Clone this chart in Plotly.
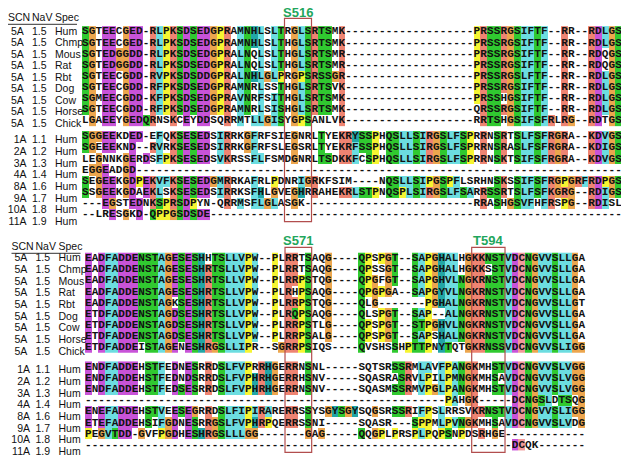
import plotly.graph_objects as go
from collections import Counter

# ---------------- data ----------------
ROW_SCN = ["5A"] * 9 + ["1A", "2A", "3A", "4A", "8A", "9A", "10A", "11A"]
ROW_NAV = ["1.5"] * 9 + ["1.1", "1.2", "1.3", "1.4", "1.6", "1.7", "1.8", "1.9"]
ROW_SPEC = ["Hum", "Chmp", "Mous", "Rat", "Rbt", "Dog", "Cow", "Horse", "Chick"] + ["Hum"] * 8
HEADER = ["SCN", "NaV", "Spec"]

TOP_SEQS = [
    "SGTEECGED-RLPKSDSEDGPRAMNHLSLTRGLSRTSMK" + "-" * 19 + "PRSSRGSIFTF--RR--RDLGS",
    "SGTEECGED-RLPKSDSEDGPRAMNHLSLTHGLSRTSMK" + "-" * 19 + "PRSSRGSIFTF--RR--RDLGS",
    "SGTEDGGDD-RLPKSDSEDGPRALNQLSLTHGLSRTSMR" + "-" * 19 + "PRSSRGSIFTF--RR--RDQGS",
    "SGTEDGGDD-RLPKSDSEDGPRALNQLSLTHGLSRTSMR" + "-" * 19 + "PRSSRGSIFTF--RR--RDQGS",
    "SGTEECGDD-RVPKSDSDDGPRALNHLGLPRGPSRSSGR" + "-" * 19 + "PRSSRGSLFTF--RR--RDLGS",
    "SGTEECGDD-RFPKSDSEDGPRAMNRLSSTHGLSRTSVK" + "-" * 19 + "PRSSRGSIFTF--RR--RDLGS",
    "SGMEECGDD-KFPKSDSEDGPRAVNRFSITHGLSRTSMK" + "-" * 19 + "PRSSHGSIFTF--RR--RDLGS",
    "SGTEECGDD-RFPKSDSEDGPRAMNRLSISHGLSRTSMK" + "-" * 19 + "QRSSRGSIFTF--RR--RDLGS",
    "LGAEEYGEDQRNSKCEYDDSQRRMTLLGISYGPSANLVK" + "-" * 19 + "RRTSHGSIFSFRLRG--RDTGS",
    "SGGEEKDED-EFQKSESED" + "SIRRKGFRFSIEGNRLTYEKRYSSPHQSLLSI" + "RGSLFSPRRNSRTSLFSFRGRA--KDVGS",
    "SGEEEKND--RVRKSESED" + "SIRRKGFRFSLEGSRLTYEKRFSSPHQSLLSI" + "RGSLFSPRRNSRASLFSFRGRA--KDIGS",
    "LEGNNKGERDSFPKSESED" + "SVKRSSFLFSMDGNRLTSDKKFCSPHQSLLSI" + "RGSLFSPRRNSKTSIFSFRGRA--KDVGS",
    "EGGEADGD" + "-" * 72,
    "SEGEEKGDPEKVFKSESED" + "GMRRKAFRLPDNRIGRKFSIM----NQSLLSI" + "PGSPFLSRHNSKSSIFSFRGPGRFRDPGS",
    "SSGEEKGDAEKLSKSESED" + "SIRRKSFHLGVEGHRRAHEKRLSTPNQSPLSI" + "RGSLFSARRSSRTSLFSFKGRG--RDIGS",
    "---EGSTEDNKSPRSDPYN" + "-QRRMSFLGLASGK" + "-" * 25 + "RRASHGSVFHFRSPG--RDISL",
    "--LRESGKD-QPPGSDSDE" + "-" * 61,
]

BOTTOM_SEQS = [
    "EADFADDENSTAGESESHHTSLLVPW--PLRRTSAQG----QPSPGT--SAPGHALHGKKNSTVDCNGVVSLLGA",
    "EADFADDENSTAGESESHRTSLLVPW--PLRRTSAQG----QPSSGT--SAPGHALHGKKSSTVDCNGVVSLLGA",
    "EADFADDENSTAGESESHRTSLLVPW--PLRRPSTQG----QPGFGT--SAPGHVLNGKRNSTVDCNGVVSLLGA",
    "EADFADDENSTAGESESHRTSLLVPW--PLRHPSAQG----QPGPGA--SAPGYVLNGKRNSTVDCNGVVSLLGA",
    "EADFADDENSTAGKSESHRTSLLVPW--PLRRPSTQG----QLG-------PGHALNGKRNSTVDCNGVVSLLGT",
    "ETDFADDENSTAGDSESHRTSLLVPW--PLRQPSAQG----QLSPGT--SAP--ALNGKRNSTVDCNGVVSLLGA",
    "ETDFADDENSTAGDSESHRTSLLVPW--PLRRPSTLG----QPSPGT--STPGHVLNGKRNSTVDCNGVVSLLGA",
    "ETDFADDENSTAGDSESHRTSLLVPW--PLRRPSALG----QPSPGT--SAPSHALNGKRNSTVDCNGVVSLLGA",
    "ETDFADDEISTAGENESHRGSLLIPR--SGRRPSIQS----QVSHSSHPTTPNYTQTGKRNSSVDCNGVVSLIGG",
    "ENDFADDEHSTFEDNESRRDSLFVPRRHGERRNSNL-----SQTSRSSRMLAVFPANGKMHSTVDCNGVVSLVGG",
    "ENDFADDEHSTFEDNDSRRDSLFVPHRHGERRHSNV-----SQASRASRVLPILPMNGKMHSAVDCNGVVSLVGG",
    "ENDFADDEHSTFEDSESRRDSLFVPHRHGERRNSNV-----SQASMSSRMVPGLPANGKMHSTVDCNGVVSLVGG",
    "-" * 54 + "PAHGK-----DCNGSLDTSQG",
    "ENEFADDEHSTVEESEGRRDSLFIPIRARERRSSYSGYSGYSQGSRSSRIFPSLRRSVKRNSTVDCNGVVSLIGG",
    "ETEFADDEHSIFGDNESRRGSLFVPHRPQERRSSNI-----SQASR---SPPMLPVNGKMHSAVDCNGVVSLVDG",
    "PEGVTDD-GVFPGDHESHRGSLLLGG-------GAG-----QQGPLPRSPLPQPSNPDSRHGE" + "-" * 12,
    "-" * 64 + "DCQK" + "-" * 7,
]

# site label, block (0 top / 1 bottom), first column, last column
SITES = [("S516", 0, 30, 33), ("S571", 1, 30, 33), ("T594", 1, 58, 62)]

# ---------------- styling / layout constants ----------------
PALETTE = ["#FFFFFF",  # none
           "#6CDDE0",  # hydrophobic
           "#EE8472",  # K R
           "#C853D8",  # D E
           "#30C930",  # N Q S T
           "#F29A9A",  # C
           "#ECA64E",  # G
           "#F6F532",  # P
           "#22A6A6"]  # H Y
BLUE, RED, MAGENTA, GREEN, PINK, ORANGE, YELLOW, CYAN = range(1, 9)

BLOCKS = [
    dict(seqs=TOP_SEQS, x0=82.0, cw=6.75, sy=(31.7, 136.6), sp=11.12,
         lx=0.0, hy=18.0, ly=(32.3, 140.5), lp=(11.5, 11.7), box_top=18.3, box_bot=221.7, site_y=12.3),
    dict(seqs=BOTTOM_SEQS, x0=85.0, cw=6.667, sy=(258.3, 367.0), sp=11.15,
         lx=3.5, hy=247.0, ly=(258.5, 370.5), lp=(11.7, 11.7), box_top=247.3, box_bot=452.3, site_y=240.0),
]

PAGE_W, PAGE_H = 629, 461
BODY_MARGIN = 8  # default page margin around the plot div


def clustalx_classes(seqs):
    ncol = len(seqs[0])
    out = [[0] * ncol for _ in seqs]
    for c in range(ncol):
        res = [s[c] for s in seqs if s[c] != "-"]
        n = len(res)
        if not n:
            continue
        cnt = Counter(res)

        def f(g):
            return 100.0 * sum(cnt[a] for a in g) / n

        def any85(g):
            return any(f(a) > 85 for a in g)

        hyd = f("WLVIMAFCHP")
        hyd_rule = hyd > 60 or any85("ACFHILMVWYP") or f("P") > 50
        for r, s in enumerate(seqs):
            a = s[c]
            k = 0
            if a in "AILMFWV":
                k = BLUE if hyd_rule else 0
            elif a == "C":
                k = PINK if f("C") > 85 else (BLUE if hyd_rule else 0)
            elif a in "KR":
                k = RED if (f("KR") > 60 or any85("KRQ")) else 0
            elif a == "N":
                k = GREEN if (f("N") > 50 or any85("NY")) else 0
            elif a == "Q":
                k = GREEN if (f("QE") > 50 or any85("QEKR") or f("KR") > 60) else 0
            elif a == "E":
                k = MAGENTA if (f("ED") > 50 or any85("DEQ") or f("QE") > 50) else 0
            elif a == "D":
                k = MAGENTA if (f("ED") > 50 or any85("DEN") or f("N") > 50) else 0
            elif a in "ST":
                k = GREEN if (hyd > 80 or f("TS") > 50 or any85("ST")) else 0
            elif a == "G":
                k = ORANGE
            elif a == "P":
                k = YELLOW
            elif a in "HY":
                k = CYAN if hyd_rule else 0
            out[r][c] = k
    return out


ncls = len(PALETTE)
cscale = []
for i, col in enumerate(PALETTE):
    cscale.append([i / ncls, col])
    cscale.append([(i + 1) / ncls, col])

SEQ_FONT = dict(family="Liberation Mono, Courier New, monospace", size=11, color="#111111", weight="bold")
LAB_FONT = dict(family="Liberation Sans, Arial, sans-serif", size=10.5, color="#111111")

fig = go.Figure()
shapes = []
annotations = []
GROUPS = [(0, 9), (9, 17)]

for bi, B in enumerate(BLOCKS):
    seqs = B["seqs"]
    cls = clustalx_classes(seqs)
    ncol = len(seqs[0])
    for gi, (r0, r1) in enumerate(GROUPS):
        y0 = B["sy"][gi]
        fig.add_trace(go.Heatmap(
            z=cls[r0:r1], x0=B["x0"] + B["cw"] / 2, dx=B["cw"], y0=y0, dy=B["sp"],
            colorscale=cscale, zmin=-0.5, zmax=ncls - 0.5, showscale=False,
            hoverinfo="skip"))
        xs, ys, ts = [], [], []
        for r in range(r0, r1):
            for c in range(ncol):
                xs.append(B["x0"] + (c + 0.5) * B["cw"])
                ys.append(y0 + (r - r0) * B["sp"])
                ts.append(seqs[r][c])
        fig.add_trace(go.Scatter(x=xs, y=ys, text=ts, mode="text", textposition="middle center",
                                 textfont=SEQ_FONT, hoverinfo="skip", showlegend=False))
        ly = [B["ly"][gi] + i * B["lp"][gi] for i in range(r1 - r0)]
        scn_x = (11 if gi == 0 else 26.5) + B["lx"]
        fig.add_trace(go.Scatter(x=[scn_x] * len(ly), y=ly, text=ROW_SCN[r0:r1], mode="text",
                                 textposition="middle right" if gi == 0 else "middle left",
                                 textfont=LAB_FONT, hoverinfo="skip", showlegend=False))
        fig.add_trace(go.Scatter(x=[32 + B["lx"]] * len(ly), y=ly, text=ROW_NAV[r0:r1], mode="text",
                                 textposition="middle right", textfont=LAB_FONT,
                                 hoverinfo="skip", showlegend=False))
        fig.add_trace(go.Scatter(x=[55 + B["lx"]] * len(ly), y=ly, text=ROW_SPEC[r0:r1], mode="text",
                                 textposition="middle right", textfont=LAB_FONT,
                                 hoverinfo="skip", showlegend=False))
    fig.add_trace(go.Scatter(x=[x + B["lx"] for x in (8, 32, 55)], y=[B["hy"]] * 3, text=HEADER,
                             mode="text", textposition="middle right", textfont=LAB_FONT,
                             hoverinfo="skip", showlegend=False))
    shapes.append(dict(type="line", x0=8 + B["lx"], x1=77 + B["lx"], y0=B["hy"] + 6.3, y1=B["hy"] + 6.3,
                       line=dict(color="#333333", width=1)))

for name, bi, c0, c1 in SITES:
    B = BLOCKS[bi]
    xl = B["x0"] + c0 * B["cw"]
    xr = B["x0"] + (c1 + 1) * B["cw"]
    shapes.append(dict(type="rect", x0=xl, x1=xr, y0=B["box_top"], y1=B["box_bot"],
                       line=dict(color="#B24E4E", width=1.2), fillcolor="rgba(0,0,0,0)"))
    annotations.append(dict(x=(xl + xr) / 2, y=B["site_y"], text="<b>%s</b>" % name, showarrow=False,
                            xref="x", yref="y",
                            font=dict(family="Liberation Sans, Arial, sans-serif",
                                      size=13, color="#1FA65C")))

fig.update_layout(
    width=PAGE_W - BODY_MARGIN, height=PAGE_H - BODY_MARGIN, margin=dict(l=0, r=0, t=0, b=0),
    paper_bgcolor="white", plot_bgcolor="white", showlegend=False,
    xaxis=dict(range=[BODY_MARGIN, PAGE_W], visible=False, fixedrange=True),
    yaxis=dict(range=[PAGE_H, BODY_MARGIN], visible=False, fixedrange=True),
    shapes=shapes, annotations=annotations,
)

fig.write_html("out.html")
